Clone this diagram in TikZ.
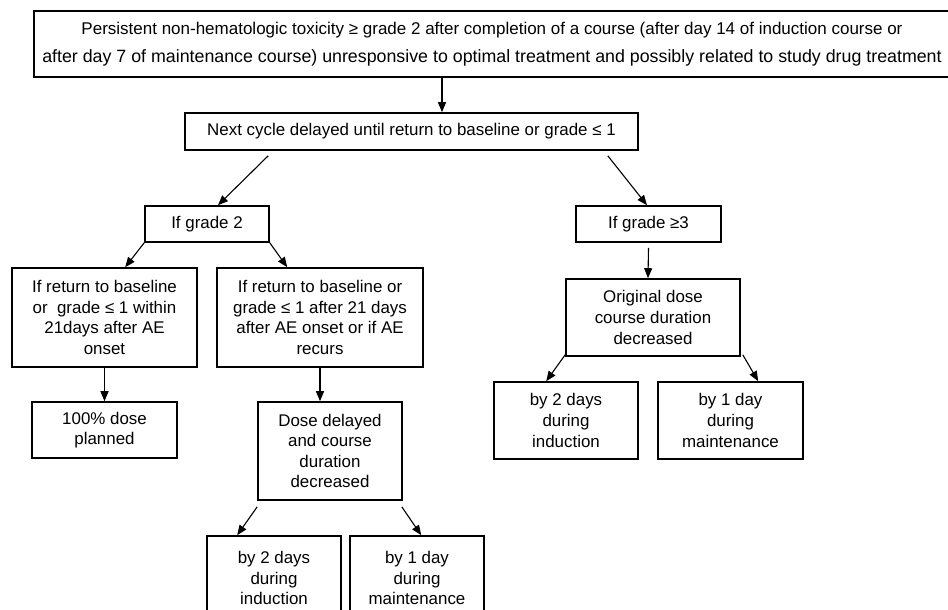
\documentclass[tikz,border=0pt]{standalone}
\usepackage{fontspec}
\setmainfont{Liberation Sans}
\usetikzlibrary{arrows.meta}
\begin{document}
\begin{tikzpicture}[x=1pt,y=-1pt,
  box/.style={draw,line width=1.6pt,rectangle,inner sep=0pt,align=center,
    font=\fontsize{16.9}{20.6}\selectfont},
  arr/.style={line width=1.1pt,-{Triangle[length=10pt,width=8pt]}}]
\useasboundingbox (0,0) rectangle (948,610);
\clip (0,0) rectangle (948,610);
\fill[white] (0,0) rectangle (948,610);
\node[box,minimum width=916pt,minimum height=66pt,font=\fontsize{17}{28}\selectfont] (top) at (492,44)
  {Persistent non-hematologic toxicity ≥ grade 2 after completion of a course (after day 14 of induction course or\\
   \fontsize{17.8}{28}\selectfont after day 7 of maintenance course) unresponsive to optimal treatment and possibly related to study drug treatment};
\node[box,minimum width=453pt,minimum height=37pt] (next) at (411.5,131.5)
  {Next cycle delayed until return to baseline or grade ≤ 1};
\node[box,minimum width=124pt,minimum height=36pt] (g2) at (207,224) {If grade 2};
\node[box,minimum width=145pt,minimum height=36pt] (g3) at (648.5,224) {If grade ≥3};
\node[box,minimum width=185pt,minimum height=99pt] (L) at (104.5,317.5)
  {If return to baseline\\or\ \ grade ≤ 1 within\\21days after AE\\onset};
\node[box,minimum width=206pt,minimum height=99pt] (M) at (320,317.5)
  {If return to baseline or\\grade ≤ 1 after 21 days\\after AE onset or if AE\\recurs};
\node[box,minimum width=145pt,minimum height=56pt] (d100) at (104.5,430) {100\% dose\\planned};
\node[box,minimum width=144pt,minimum height=98pt] (delay) at (330,451)
  {Dose delayed\\and course\\duration\\decreased};
\node[box,minimum width=134pt,minimum height=84pt] (b2L) at (274,578) {by 2 days\\during\\induction};
\node[box,minimum width=134pt,minimum height=84pt] (b1L) at (417,578) {by 1 day\\during\\maintenance};
\node[box,minimum width=174pt,minimum height=77pt] (orig) at (653,317.5)
  {Original dose\\course duration\\decreased};
\node[box,minimum width=144pt,minimum height=77pt] (b2R) at (566,420.5) {by 2 days\\during\\induction};
\node[box,minimum width=145pt,minimum height=77pt] (b1R) at (730.5,420.5) {by 1 day\\during\\maintenance};

\draw[arr] ([xshift=-50pt]top.south) -- ([xshift=30.5pt]next.north);
\draw[arr] ([xshift=84pt,yshift=-5pt]next.south west) -- ([xshift=11pt]g2.north);
\draw[arr] ([xshift=-31pt,yshift=-5pt]next.south east) -- ([xshift=-1.5pt]g3.north);
\draw[arr] (g2.south west) -- ([xshift=114pt]L.north west);
\draw[arr] (g2.south east) -- ([xshift=71pt]M.north west);
\draw[arr] (L.south) -- (d100.north);
\draw[arr] (M.south) -- ([xshift=-10pt]delay.north);
\draw[arr] ([yshift=-5pt]g3.south) -- ([xshift=-5pt]orig.north);
\draw[arr] ([yshift=2pt]orig.south west) -- ([xshift=53pt]b2R.north west);
\draw[arr] ([xshift=2pt,yshift=2pt]orig.south east) -- ([xshift=101pt]b1R.north west);
\draw[arr] ([yshift=-6pt]delay.south west) -- ([xshift=31pt]b2L.north west);
\draw[arr] ([xshift=-1pt,yshift=-6pt]delay.south east) -- ([xshift=72pt]b1L.north west);
\end{tikzpicture}
\end{document}
